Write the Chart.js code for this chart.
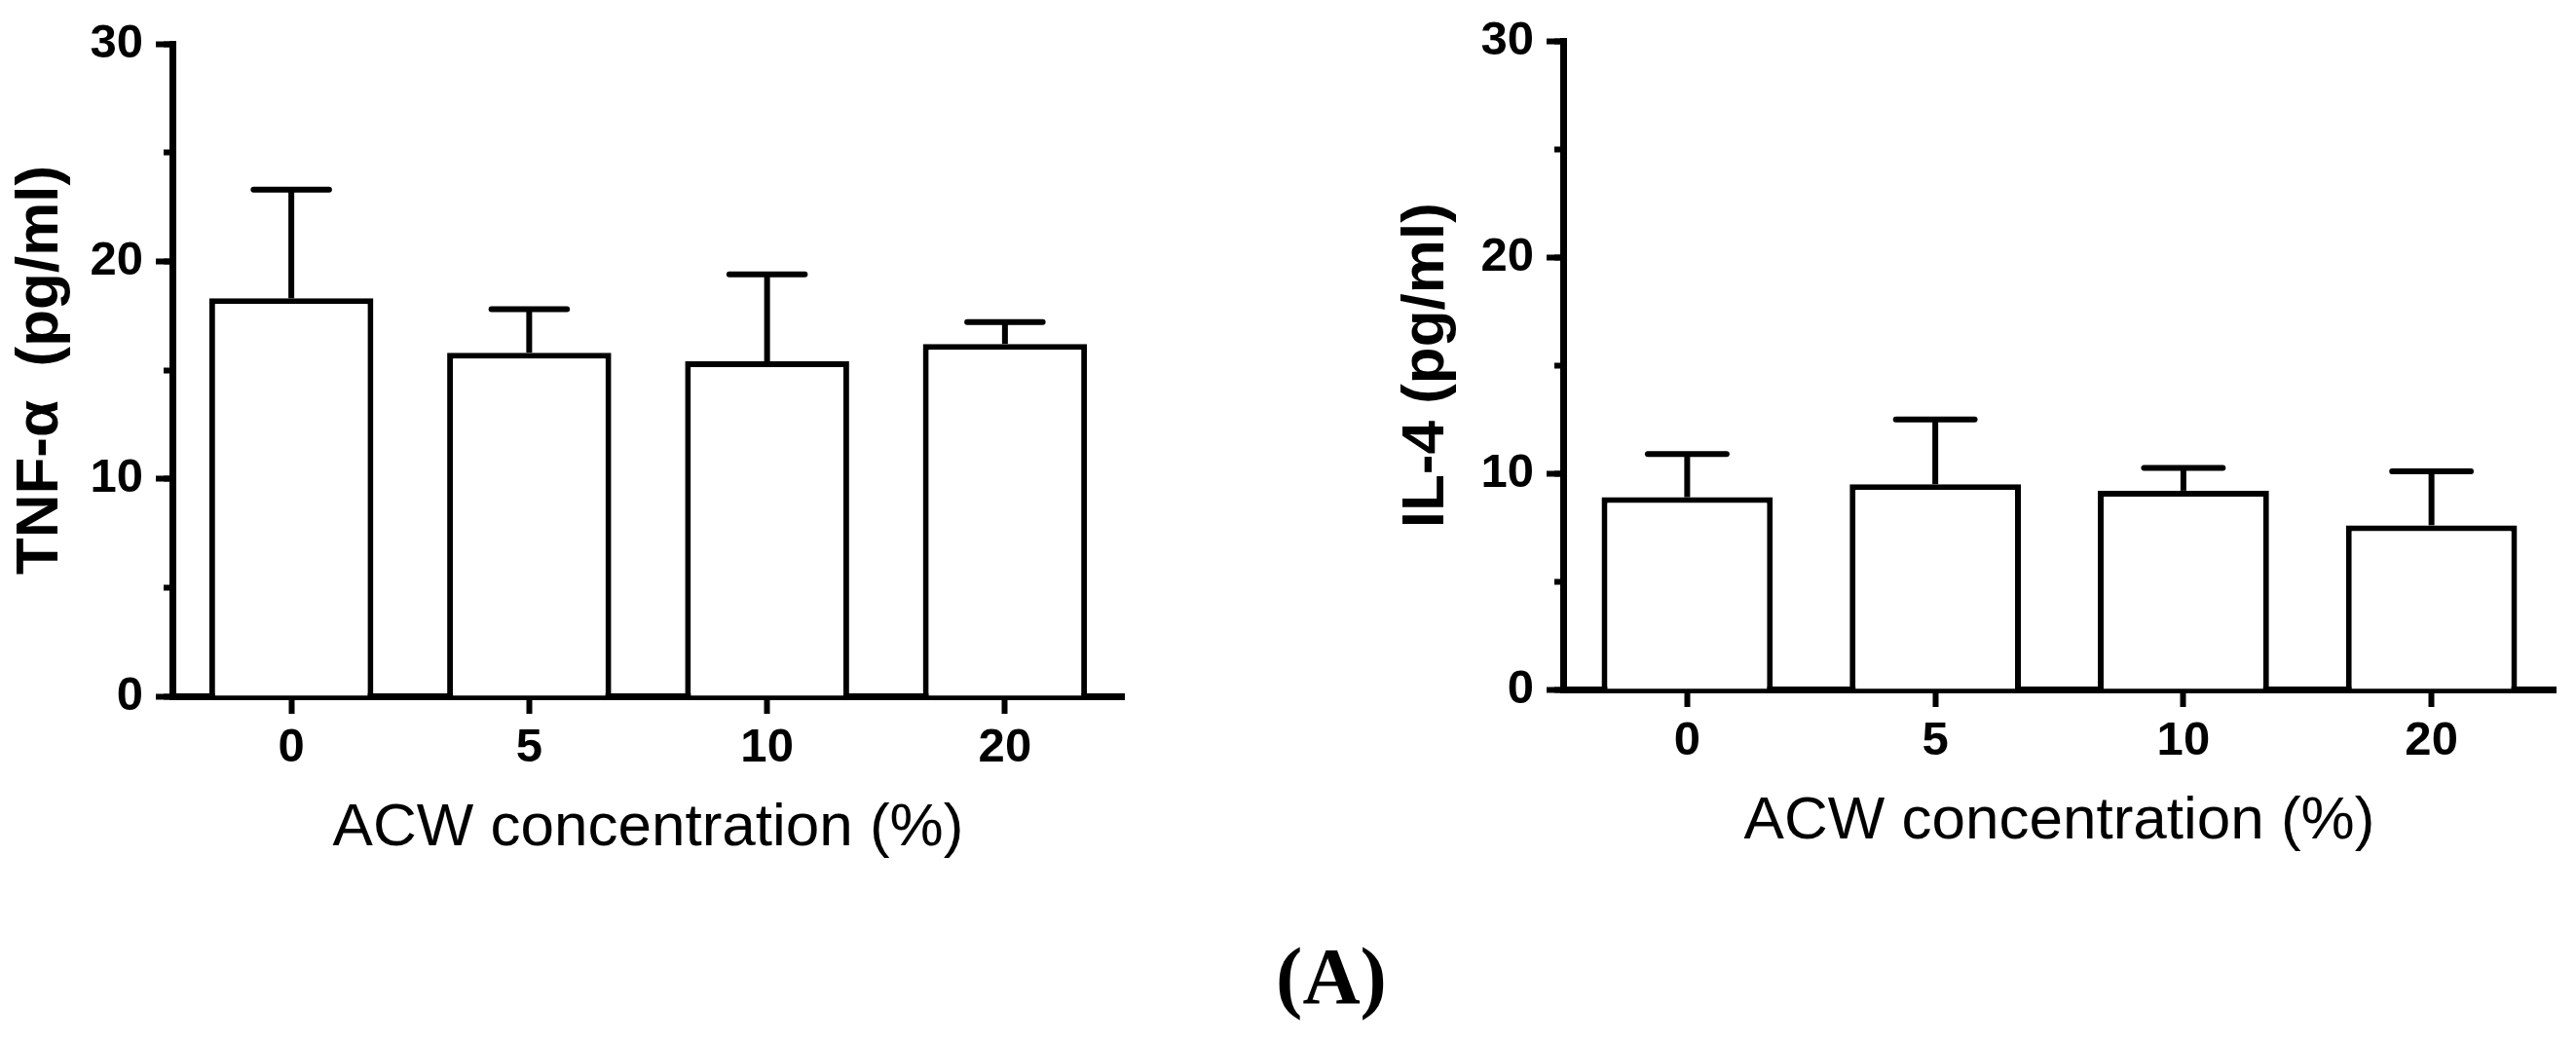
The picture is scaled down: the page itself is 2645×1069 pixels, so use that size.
<!DOCTYPE html>
<html>
<head>
<meta charset="utf-8">
<script src="https://cdn.jsdelivr.net/npm/chart.js@4.4.0/dist/chart.umd.min.js"></script>
<style>
  body { margin: 0; background: #fff; width: 2645px; height: 1069px; position: relative; overflow: hidden; }
  canvas { position: absolute; top: 0; }
  #tnf { left: 0; }
  #il4 { left: 1400px; }
  #panel { position: absolute; top: 962px; left: 1267px; width: 200px; text-align: center;
           font: bold 82px "Liberation Serif", "Times New Roman", serif; line-height: 1; color: #000; }
</style>
</head>
<body>
<canvas id="tnf" width="1200" height="900"></canvas>
<canvas id="il4" width="1245" height="893"></canvas>
<div id="panel">(A)</div>
<script>
// ACW concentration groups
const doses = ['0', '5', '10', '20'];

// TNF-alpha, mean and SEM (pg/ml)
const tnfMean = [18.3, 15.8, 15.4, 16.2];
const tnfSem = [5.0, 2.0, 4.0, 1.0];

// IL-4, mean and SEM (pg/ml)
const il4Mean = [8.9, 9.5, 9.2, 7.6];
const il4Sem = [2.0, 3.0, 1.05, 2.5];

const tickFont = { family: '"Liberation Sans Narrow", "Liberation Sans", Arial, sans-serif', weight: 'bold', size: 49 };
const yTitleFont = { family: '"Liberation Sans", Arial, sans-serif', weight: 'bold', size: 62 };
const xTitleFont = { family: '"Liberation Sans", Arial, sans-serif', weight: 'normal', size: 62 };

// one-sided (upper) error bars, drawn from the bar elements
const errorBars = {
    id: 'errorBars',
    afterDatasetsDraw(chart) {
        const ctx = chart.ctx;
        const y = chart.scales.y;
        chart.data.datasets.forEach((ds, di) => {
            chart.getDatasetMeta(di).data.forEach((bar, i) => {
                const top = y.getPixelForValue(ds.data[i] + ds.sem[i]);
                const half = bar.width * 0.23;
                ctx.save();
                ctx.strokeStyle = '#000';
                ctx.lineWidth = 6;
                ctx.beginPath();
                ctx.moveTo(bar.x, bar.y);
                ctx.lineTo(bar.x, top);
                ctx.stroke();
                ctx.lineCap = 'round';
                ctx.beginPath();
                ctx.moveTo(bar.x - half, top);
                ctx.lineTo(bar.x + half, top);
                ctx.stroke();
                ctx.restore();
            });
        });
    }
};

function makeChart(id, yTitle, means, sems, box) {
    return new Chart(document.getElementById(id), {
        type: 'bar',
        data: {
            labels: doses,
            datasets: [{
                data: means,
                sem: sems,
                backgroundColor: '#fff',
                borderColor: '#000',
                borderWidth: 6,
                barPercentage: 0.69,
                categoryPercentage: 1
            }]
        },
        options: {
            responsive: false,
            animation: false,
            devicePixelRatio: 1,
            layout: { padding: { top: box.top, right: box.right, left: 0, bottom: 0 } },
            plugins: { legend: { display: false }, tooltip: { enabled: false } },
            scales: {
                x: {
                    offset: true,
                    grid: { offset: false, drawOnChartArea: false, tickLength: 18, tickWidth: 6, tickColor: '#000' },
                    border: { color: '#000', width: 7 },
                    ticks: { font: tickFont, color: '#000', padding: 6, maxRotation: 0 },
                    title: { display: true, text: 'ACW concentration (%)', font: xTitleFont, color: '#000', padding: { top: 0, bottom: 12 } },
                    afterFit(s) { s.height = 185; }
                },
                y: {
                    weight: 1,
                    min: 0,
                    max: 30,
                    ticks: { stepSize: 10, font: tickFont, color: '#000', padding: 13 },
                    grid: { drawOnChartArea: false, tickLength: 17, tickWidth: 6, tickColor: '#000' },
                    border: { color: '#000', width: 7 },
                    title: { display: true, text: yTitle, font: yTitleFont, color: '#000', padding: { top: box.titlePad, bottom: 0 } },
                    afterFit(s) { s.width = box.yWidth; }
                },
                yMinor: {
                    position: 'left',
                    weight: 0,
                    min: 0,
                    max: 30,
                    ticks: { stepSize: 5, display: false },
                    grid: { drawOnChartArea: false, tickLength: 9, tickWidth: 6, tickColor: '#000' },
                    border: { display: false },
                    afterFit(s) { s.width = 0; }
                }
            }
        },
        plugins: [errorBars]
    });
}

makeChart('tnf', 'TNF-\u03b1  (pg/ml)', tnfMean, tnfSem, { top: 45, right: 46, yWidth: 177, titlePad: 5 });
makeChart('il4', 'IL-4 (pg/ml)', il4Mean, il4Sem, { top: 39, right: 21, yWidth: 205, titlePad: 28 });
</script>
</body>
</html>
